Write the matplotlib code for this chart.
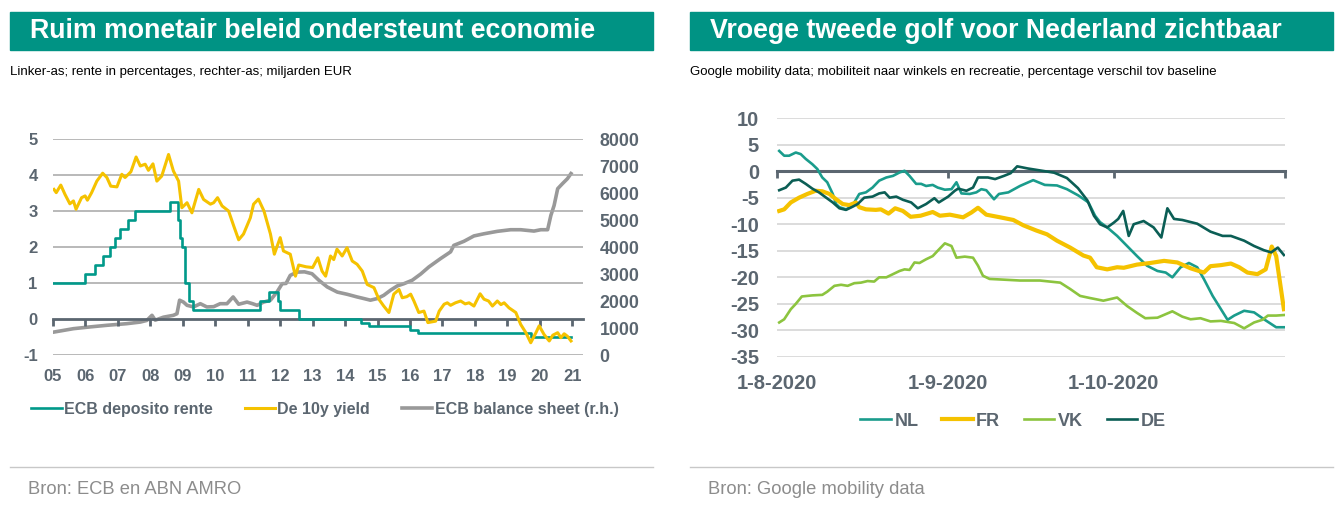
import matplotlib
matplotlib.use('Agg')
import matplotlib.pyplot as plt
from matplotlib.patches import Rectangle
from matplotlib.lines import Line2D

plt.rcParams['font.family'] = ['Liberation Sans', 'DejaVu Sans']
plt.rcParams['axes.unicode_minus'] = False

# ---------------- data: left chart (ECB) ----------------
yield_years = [2005.03, 2005.10, 2005.24, 2005.37, 2005.52, 2005.63, 2005.71, 2005.88, 2005.99, 2006.06,
               2006.19, 2006.35, 2006.53, 2006.66, 2006.78, 2006.97, 2007.12, 2007.22, 2007.40, 2007.56,
               2007.69, 2007.84, 2007.94, 2008.08, 2008.20, 2008.35, 2008.56, 2008.71, 2008.87, 2008.97,
               2009.13, 2009.28, 2009.49, 2009.64, 2009.85, 2009.95, 2010.07, 2010.21, 2010.41, 2010.57,
               2010.72, 2010.87, 2011.08, 2011.18, 2011.33, 2011.50, 2011.70, 2011.82, 2012.00, 2012.10,
               2012.31, 2012.47, 2012.57, 2012.80, 2013.00, 2013.16, 2013.29, 2013.40, 2013.55, 2013.65,
               2013.75, 2013.91, 2014.06, 2014.22, 2014.37, 2014.53, 2014.68, 2014.89, 2015.04, 2015.19,
               2015.35, 2015.50, 2015.66, 2015.76, 2015.90, 2016.02, 2016.12, 2016.27, 2016.43, 2016.55,
               2016.79, 2016.90, 2017.05, 2017.15, 2017.25, 2017.40, 2017.56, 2017.70, 2017.82, 2017.97,
               2018.16, 2018.28, 2018.42, 2018.54, 2018.69, 2018.80, 2018.90, 2019.05, 2019.26, 2019.41,
               2019.57, 2019.72, 2019.88, 2019.98, 2020.13, 2020.29, 2020.40, 2020.55, 2020.65, 2020.75,
               2020.85, 2020.96]
yield_10y = [3.60, 3.51, 3.72, 3.46, 3.20, 3.28, 3.05, 3.37, 3.42, 3.30,
             3.51, 3.83, 4.05, 3.93, 3.69, 3.67, 4.02, 3.93, 4.09, 4.50,
             4.25, 4.30, 4.13, 4.31, 3.83, 3.97, 4.57, 4.11, 3.83, 3.09,
             3.23, 2.95, 3.60, 3.32, 3.19, 3.23, 3.37, 3.14, 3.00, 2.58,
             2.20, 2.36, 2.81, 3.19, 3.33, 3.00, 2.36, 1.80, 2.26, 1.89,
             1.80, 1.19, 1.50, 1.45, 1.43, 1.70, 1.33, 1.19, 1.75, 1.65,
             1.94, 1.75, 1.98, 1.61, 1.52, 1.33, 0.96, 0.87, 0.55, 0.36,
             0.18, 0.69, 0.82, 0.59, 0.62, 0.69, 0.50, 0.18, 0.22, -0.10,
             -0.06, 0.22, 0.41, 0.45, 0.38, 0.45, 0.50, 0.42, 0.45, 0.36,
             0.70, 0.55, 0.50, 0.36, 0.50, 0.40, 0.45, 0.31, 0.18, -0.15,
             -0.38, -0.66, -0.38, -0.19, -0.43, -0.61, -0.45, -0.38, -0.52, -0.41,
             -0.48, -0.61]

bs_years = [2005.03, 2005.63, 2006.14, 2006.66, 2007.27, 2007.69, 2007.89, 2008.05, 2008.15, 2008.40,
            2008.71, 2008.82, 2008.90, 2009.02, 2009.13, 2009.33, 2009.54, 2009.74, 2009.95, 2010.15,
            2010.36, 2010.55, 2010.72, 2010.98, 2011.15, 2011.29, 2011.49, 2011.70, 2011.90, 2012.06,
            2012.18, 2012.31, 2012.52, 2012.75, 2012.98, 2013.19, 2013.45, 2013.76, 2014.06, 2014.37,
            2014.58, 2014.78, 2014.99, 2015.19, 2015.40, 2015.61, 2015.81, 2016.07, 2016.33, 2016.58,
            2016.94, 2017.25, 2017.35, 2017.66, 2017.97, 2018.28, 2018.69, 2019.10, 2019.41, 2019.82,
            2020.03, 2020.24, 2020.34, 2020.44, 2020.55, 2020.70, 2020.85, 2020.96]
balance_sheet = [850, 975, 1040, 1100, 1160, 1220, 1280, 1470, 1290, 1400,
                 1470, 1530, 2030, 1960, 1840, 1780, 1900, 1780, 1790, 1900,
                 1900, 2150, 1880, 1960, 1900, 1840, 1960, 2030, 2330, 2640,
                 2650, 2950, 3070, 3080, 3010, 2770, 2520, 2330, 2250, 2150,
                 2090, 2030, 2090, 2210, 2400, 2560, 2640, 2770, 3000, 3260,
                 3570, 3820, 4060, 4210, 4410, 4490, 4580, 4640, 4640, 4590,
                 4640, 4640, 5170, 5540, 6160, 6350, 6530, 6720]

depo_years = [2005.0, 2005.99, 2006.30, 2006.55, 2006.75, 2006.91, 2007.07, 2007.32, 2007.53, 2008.61,
              2008.85, 2008.92, 2008.97, 2009.07, 2009.20, 2009.30, 2011.39, 2011.64, 2011.92, 2012.00,
              2012.57, 2014.50, 2014.75, 2016.00, 2016.25, 2019.72, 2020.96]
depo_rate = [1.00, 1.25, 1.50, 1.75, 2.00, 2.25, 2.50, 2.75, 3.00, 3.25,
             2.75, 2.25, 2.00, 1.00, 0.50, 0.25, 0.50, 0.75, 0.50, 0.25,
             0.00, -0.10, -0.20, -0.30, -0.40, -0.50, -0.50]

year_ticks = list(range(2005, 2022))
year_labels = ['%02d' % (y % 100) for y in year_ticks]

# ---------------- data: right chart (Google mobility) ----------------
nl_day = [0.4, 1.3, 2.2, 3.4, 4.3, 5.2, 6.4, 7.3, 8.2, 9.1, 10.1, 10.7, 11.3, 12.5, 13.3, 14.0, 14.9, 16.1,
          17.3, 18.5, 19.8, 21.0, 22.2, 23.1, 24.0, 25.2, 26.1, 27.0, 28.2, 29.1, 30.4, 31.6, 32.5, 33.4,
          34.9, 36.1, 37.0, 37.9, 39.3, 40.2, 41.9, 44.0, 46.4, 48.5, 50.7, 52.5, 54.6, 56.4, 57.6, 58.5,
          59.8, 61.6, 63.4, 65.2, 67.0, 68.9, 70.4, 71.6, 73.1, 74.6, 76.1, 77.3, 78.9, 80.4, 81.6, 82.8,
          84.6, 86.4, 88.2, 90.4, 91.8]
nl = [3.8, 2.9, 2.9, 3.5, 3.2, 2.3, 1.3, 0.4, -1.2, -2.1, -4.3, -6.2, -6.8, -7.2, -6.8, -5.9, -4.3, -4.0,
      -3.1, -1.8, -1.2, -0.9, -0.25, 0.06, -0.9, -2.4, -2.4, -2.8, -2.6, -3.1, -3.5, -3.4, -2.1, -4.2,
      -4.3, -4.0, -3.4, -3.6, -5.3, -4.3, -4.0, -2.8, -1.7, -2.6, -2.7, -3.4, -4.6, -5.9, -8.4, -9.6,
      -10.6, -12.2, -14.1, -16.0, -17.8, -18.8, -19.1, -20.0, -18.1, -17.3, -18.1, -20.3, -23.5, -26.0, -28.0, -27.2,
      -26.3, -26.6, -27.9, -29.4, -29.4]

fr_day = [0.4, 1.3, 2.5, 4.0, 5.5, 7.0, 8.2, 9.5, 10.7, 11.9, 13.1, 14.3, 14.9, 16.1, 17.9, 18.8, 20.2, 21.4,
          22.8, 24.2, 26.0, 28.2, 29.5, 31.3, 33.7, 35.2, 36.4, 37.9, 40.4, 42.8, 44.6, 47.0, 48.9, 50.7,
          53.1, 55.5, 56.7, 57.9, 59.8, 61.6, 62.8, 65.2, 67.6, 70.1, 72.5, 74.9, 77.3, 78.5, 80.4, 82.2,
          83.7, 85.2, 87.0, 88.5, 89.6, 90.4, 91.8]
fr = [-7.5, -7.2, -5.9, -5.0, -4.3, -3.7, -3.8, -4.3, -5.3, -6.2, -6.4, -5.9, -6.8, -7.2, -7.3, -7.2, -8.0, -7.0,
      -7.5, -8.6, -8.4, -7.7, -8.4, -8.2, -8.7, -7.8, -6.9, -8.2, -8.7, -9.2, -10.2, -11.2, -11.9, -13.1,
      -14.4, -15.9, -16.3, -18.1, -18.5, -18.1, -18.2, -17.6, -17.3, -16.9, -17.2, -18.3, -19.1, -17.9, -17.7, -17.4,
      -18.1, -19.1, -19.4, -18.5, -14.2, -16.0, -26.0]

vk_day = [0.4, 1.3, 2.5, 3.4, 4.5, 6.4, 8.2, 9.1, 10.4, 11.6, 12.8, 14.0, 15.2, 16.4, 17.6, 18.5, 19.8, 21.0,
          22.2, 23.1, 24.0, 24.9, 25.8, 27.0, 28.2, 29.1, 30.4, 31.6, 32.5, 34.0, 35.5, 36.4, 37.3, 38.5,
          40.4, 44.0, 47.6, 51.3, 53.1, 54.9, 56.7, 59.1, 61.6, 63.4, 65.2, 66.7, 68.9, 71.6, 73.4, 74.9,
          76.7, 78.5, 80.4, 82.8, 84.6, 86.4, 87.9, 88.9, 90.4, 91.8]
vk = [-28.5, -27.9, -26.0, -25.0, -23.6, -23.4, -23.3, -22.7, -21.6, -21.4, -21.6, -21.1, -21.0, -20.7, -20.8, -20.0, -20.0, -19.4,
      -18.8, -18.5, -18.6, -17.2, -17.3, -16.6, -16.0, -15.0, -13.6, -14.1, -16.3, -16.1, -16.3, -17.8, -19.7, -20.3,
      -20.4, -20.6, -20.6, -21.0, -22.2, -23.5, -23.9, -24.4, -23.8, -25.4, -26.7, -27.7, -27.6, -26.4, -27.4, -27.9,
      -27.7, -28.3, -28.2, -28.6, -29.6, -28.5, -28.0, -27.2, -27.2, -27.1]

de_day = [0.4, 1.6, 2.8, 4.0, 5.2, 6.4, 7.6, 8.9, 10.1, 11.3, 12.5, 13.7, 14.6, 15.8, 17.3, 18.5, 19.5, 20.4,
          21.6, 22.8, 24.3, 25.5, 27.0, 28.5, 29.3, 31.0, 32.2, 32.8, 34.3, 35.5, 36.4, 38.2, 39.5, 41.1,
          42.3, 43.5, 45.4, 47.8, 50.2, 52.5, 54.5, 56.2, 57.4, 58.5, 59.8, 61.0, 61.8, 62.7, 63.7, 64.6,
          66.4, 68.2, 69.6, 70.7, 71.9, 73.4, 76.1, 78.5, 80.7, 82.2, 84.6, 86.4, 88.2, 89.5, 90.7, 91.8]
de = [-3.6, -3.1, -1.8, -1.6, -2.4, -3.3, -4.0, -5.0, -5.9, -7.0, -7.3, -6.7, -6.2, -5.0, -4.8, -4.2, -4.0, -5.0,
      -4.8, -5.4, -5.9, -7.0, -6.2, -5.1, -5.9, -4.8, -3.7, -3.3, -3.7, -3.1, -1.2, -1.2, -1.5, -0.9,
      -0.4, 0.9, 0.5, 0.1, -0.3, -1.3, -3.2, -5.5, -8.4, -10.0, -10.6, -9.7, -9.0, -7.5, -12.2, -10.0,
      -9.4, -10.6, -12.5, -7.0, -9.0, -9.2, -9.9, -11.4, -12.2, -12.2, -13.1, -14.1, -14.9, -15.3, -14.4, -15.8]

month_ticks = [0, 31, 61, 92]
month_labels = ['1-8-2020', '1-9-2020', '1-10-2020', '']

# ---------------- styling ----------------
W, H = 1339, 511
BAR = '#009384'
AXC = '#5b6670'
GRID_L = '#a6a6a6'
GRID_R = '#d9d9d9'
C_DEPO = '#00998a'
C_YIELD = '#f5c200'
C_BS = '#999999'
C_NL = '#1a9c8c'
C_FR = '#f5c200'
C_VK = '#8cc43f'
C_DE = '#0b5e55'

fig = plt.figure(figsize=(W / 100, H / 100), dpi=100)


def px(x0, y0, w, h):
    return [x0 / W, 1 - (y0 + h) / H, w / W, h / H]


def header(x0, x1, title, subtitle, source):
    fig.patches.append(Rectangle((x0 / W, 1 - 50 / H), (x1 - x0) / W, 38 / H,
                                 transform=fig.transFigure, color=BAR, zorder=0))
    fig.text((x0 + 20) / W, 1 - 31 / H, title, color='white', fontsize=19.3,
             fontweight='bold', va='center', ha='left')
    fig.text(x0 / W, 1 - 72 / H, subtitle, color='black', fontsize=9.5, va='center', ha='left')
    fig.lines.append(Line2D([x0 / W, x1 / W], [1 - 467 / H, 1 - 467 / H],
                            transform=fig.transFigure, color='#c8c8c8', lw=1))
    fig.text((x0 + 18) / W, 1 - 489 / H, source, color='#8c8c8c', fontsize=13.2, va='center')


header(10, 653, 'Ruim monetair beleid ondersteunt economie',
       'Linker-as; rente in percentages, rechter-as; miljarden EUR', 'Bron: ECB en ABN AMRO')
header(690, 1333, 'Vroege tweede golf voor Nederland zichtbaar',
       'Google mobility data; mobiliteit naar winkels en recreatie, percentage verschil tov baseline',
       'Bron: Google mobility data')

# ---------------- left chart ----------------
ax = fig.add_axes(px(53, 139, 530, 216))
ax.set_xlim(2005, 2021.33)
ax.set_ylim(-1, 5)
for v in [-1, 1, 2, 3, 4, 5]:
    ax.axhline(v, color=GRID_L, lw=1.1, zorder=0.5)
for s in ['top', 'right', 'left']:
    ax.spines[s].set_visible(False)
ax.spines['bottom'].set_position(('data', 0))
ax.spines['bottom'].set_color(AXC)
ax.spines['bottom'].set_linewidth(2)
ax.spines['bottom'].set_zorder(1)
ax.set_xticks(year_ticks)
ax.tick_params(axis='x', direction='out', length=5, width=2, color=AXC, labelbottom=False)
for t, lab in zip(year_ticks, year_labels):
    ax.text(t, -0.065, lab, transform=ax.get_xaxis_transform(), ha='center', va='top',
            fontsize=12, fontweight='bold', color=AXC)
ax.set_yticks([-1, 0, 1, 2, 3, 4, 5])
ax.tick_params(axis='y', length=0, pad=11, labelsize=12, labelcolor=AXC)
for lab in ax.get_yticklabels():
    lab.set_fontweight('bold')

ax2 = ax.twinx()
ax2.set_ylim(0, 8000)
ax2.set_yticks(range(0, 8001, 1000))
for s in ax2.spines.values():
    s.set_visible(False)
ax2.tick_params(axis='y', length=0, pad=12, labelsize=12.8, labelcolor=AXC)
for lab in ax2.get_yticklabels():
    lab.set_fontweight('bold')
l_bs, = ax2.plot(bs_years, balance_sheet, color=C_BS, lw=2.6, solid_joinstyle='round',
                 label='ECB balance sheet (r.h.)')

# left-axis lines drawn above the balance sheet line
ax.set_zorder(ax2.get_zorder() + 1)
ax.patch.set_visible(False)
l_dep, = ax.plot(depo_years, depo_rate, color=C_DEPO, lw=1.9, drawstyle='steps-post',
                 label='ECB deposito rente', zorder=3)
l_y, = ax.plot(yield_years, yield_10y, color=C_YIELD, lw=2.2, solid_joinstyle='round',
               label='De 10y yield', zorder=3)

fig.legend([l_dep, l_y, l_bs], ['ECB deposito rente', 'De 10y yield', 'ECB balance sheet (r.h.)'],
           loc='center', bbox_to_anchor=(325 / W, 1 - 409 / H), ncol=3, frameon=False,
           handlelength=1.9, handletextpad=0.15, columnspacing=2.0,
           prop={'weight': 'bold', 'size': 11.5}, labelcolor=AXC)

# ---------------- right chart ----------------
bx = fig.add_axes(px(777, 118, 508, 239))
bx.set_xlim(0, 92)
bx.set_ylim(-35, 10)
for v in range(-35, 11, 5):
    if v != 0:
        bx.axhline(v, color=GRID_R, lw=1.3, zorder=1)
for s in ['top', 'right', 'left']:
    bx.spines[s].set_visible(False)
bx.spines['bottom'].set_position(('data', 0))
bx.spines['bottom'].set_color(AXC)
bx.spines['bottom'].set_linewidth(2.2)
bx.set_xticks(month_ticks)
bx.tick_params(axis='x', direction='out', length=5, width=2, color=AXC, labelbottom=False)
for t, lab in zip(month_ticks, month_labels):
    bx.text(t, -0.072, lab, transform=bx.get_xaxis_transform(), ha='center', va='top',
            fontsize=14.5, fontweight='bold', color=AXC)
bx.set_yticks(range(-35, 11, 5))
bx.tick_params(axis='y', length=0, pad=13, labelsize=14.5, labelcolor=AXC)
for lab in bx.get_yticklabels():
    lab.set_fontweight('bold')

h_nl, = bx.plot(nl_day, nl, color=C_NL, lw=1.9, label='NL', zorder=3)
h_fr, = bx.plot(fr_day, fr, color=C_FR, lw=3.0, label='FR', zorder=3)
h_vk, = bx.plot(vk_day, vk, color=C_VK, lw=1.9, label='VK', zorder=3)
h_de, = bx.plot(de_day, de, color=C_DE, lw=1.9, label='DE', zorder=3)

fig.legend([h_nl, h_fr, h_vk, h_de], ['NL', 'FR', 'VK', 'DE'],
           loc='center', bbox_to_anchor=(1013 / W, 1 - 421 / H), ncol=4, frameon=False,
           handlelength=1.7, handletextpad=0.2, columnspacing=1.3,
           prop={'weight': 'bold', 'size': 13}, labelcolor=AXC)

fig.savefig('out.png', dpi=100)
